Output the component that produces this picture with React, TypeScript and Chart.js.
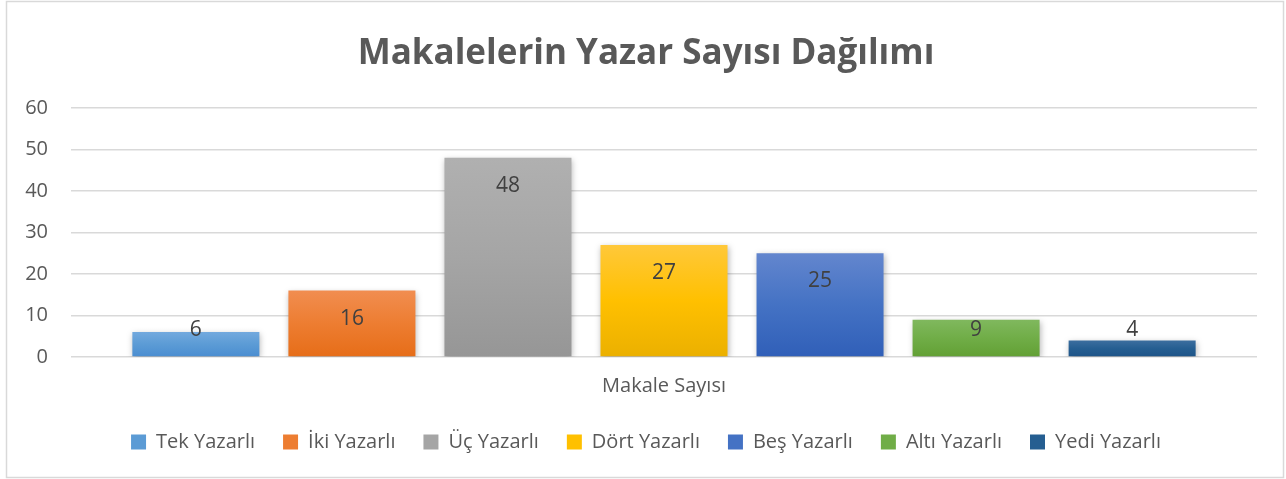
import React, { useEffect, useRef } from "react";
import { Chart, registerables } from "chart.js";

Chart.register(...registerables);

const titleText = "Makalelerin Yazar Sayısı Dağılımı";
const categories = ["Makale Sayısı"];
const seriesNames = [
  "Tek Yazarlı",
  "İki Yazarlı",
  "Üç Yazarlı",
  "Dört Yazarlı",
  "Beş Yazarlı",
  "Altı Yazarlı",
  "Yedi Yazarlı",
];
const seriesValues = [6, 16, 48, 27, 25, 9, 4];
const baseColors = ["#5B9BD5", "#ED7D31", "#A5A5A5", "#FFC000", "#4472C4", "#70AD47", "#255E91"];
const lightColors = ["#72A9DE", "#F18D50", "#B0B0B0", "#FFC83A", "#6386CE", "#80B85E", "#3C6E9F"];
const darkColors = ["#4A8DD1", "#E66D18", "#969696", "#EBB000", "#305FB8", "#62A034", "#1E5488"];
const yTicks = [0, 10, 20, 30, 40, 50, 60];

const FONT = "'Open Sans', 'Noto Sans', sans-serif";
const TEXT = "#595959";

const borderPlugin = {
  id: "outerBorder",
  beforeDraw(chart: any) {
    const { ctx, width, height } = chart;
    ctx.save();
    ctx.fillStyle = "#ffffff";
    ctx.fillRect(0, 0, width, height);
    ctx.strokeStyle = "#d9d9d9";
    ctx.lineWidth = 1.5;
    ctx.strokeRect(6.5, 1.5, width - 9, height - 3);
    ctx.restore();
  },
};

const shadowPlugin = {
  id: "barShadow",
  beforeDatasetDraw(chart: any) {
    const ctx = chart.ctx;
    ctx.save();
    ctx.shadowColor = "rgba(0,0,0,0.28)";
    ctx.shadowBlur = 6;
    ctx.shadowOffsetX = 1;
    ctx.shadowOffsetY = 2;
  },
  afterDatasetDraw(chart: any) {
    chart.ctx.restore();
  },
};

const labelPlugin = {
  id: "valueLabels",
  afterDatasetsDraw(chart: any) {
    const ctx = chart.ctx;
    ctx.save();
    ctx.font = `21px ${FONT}`;
    ctx.fillStyle = "#404040";
    ctx.textAlign = "center";
    ctx.textBaseline = "middle";
    chart.data.datasets.forEach((ds: any, i: number) => {
      const meta = chart.getDatasetMeta(i);
      meta.data.forEach((bar: any, j: number) => {
        const y = Math.min(bar.y + 28, bar.base - 26);
        ctx.fillText(String(ds.data[j]), bar.x, y);
      });
    });
    ctx.restore();
  },
};

export default function App() {
  const ref = useRef<HTMLCanvasElement | null>(null);

  useEffect(() => {
    document.body.style.margin = "0";
    const canvas = ref.current;
    if (!canvas) return;

    const chart = new Chart(canvas, {
      type: "bar",
      data: {
        labels: categories,
        datasets: seriesNames.map((name, i) => ({
          label: name,
          data: [seriesValues[i]],
          backgroundColor: (c: any) => {
            const ch = c.chart;
            const ys = ch.scales && ch.scales.y;
            if (!ch.chartArea || !ys || c.raw === undefined) return baseColors[i];
            const top = ys.getPixelForValue(c.raw);
            const base = ys.getPixelForValue(0);
            const g = ch.ctx.createLinearGradient(0, top, 0, base);
            g.addColorStop(0, lightColors[i]);
            g.addColorStop(0.5, baseColors[i]);
            g.addColorStop(1, darkColors[i]);
            return g;
          },
          borderWidth: 0,
          categoryPercentage: 0.921,
          barPercentage: 0.814,
        })),
      },
      options: {
        responsive: false,
        animation: false,
        maintainAspectRatio: false,
        layout: { padding: { left: 0, right: -6, top: 0, bottom: 17 } },
        plugins: {
          title: {
            display: true,
            text: titleText,
            color: TEXT,
            font: { family: FONT, size: 35, weight: "bold" },
            padding: { top: 33, bottom: 33 },
          },
          legend: {
            display: true,
            position: "bottom",
            labels: {
              color: TEXT,
              font: { family: FONT, size: 20 },
              boxWidth: 15,
              boxHeight: 15,
              padding: 28,
              generateLabels: () =>
                seriesNames.map((name, i) => ({
                  text: name,
                  fillStyle: baseColors[i],
                  strokeStyle: baseColors[i],
                  lineWidth: 0,
                  hidden: false,
                  datasetIndex: i,
                  fontColor: TEXT,
                })),
            },
          },
          tooltip: { enabled: false },
        },
        scales: {
          x: {
            grid: { display: false, drawTicks: false },
            border: { display: false },
            ticks: { color: TEXT, font: { family: FONT, size: 20 }, padding: 17 },
            afterFit: (s: any) => {
              s.height = 47;
            },
          },
          y: {
            min: 0,
            max: 60,
            afterBuildTicks: (s: any) => {
              s.ticks = yTicks.map((v) => ({ value: v }));
            },
            grid: { color: "#d9d9d9", lineWidth: 1.5, drawTicks: false },
            border: { display: false },
            ticks: { color: TEXT, font: { family: FONT, size: 20 }, padding: 23 },
            afterFit: (s: any) => {
              s.width = 71;
            },
          },
          yRight: {
            type: "linear",
            position: "right",
            min: 0,
            max: 60,
            grid: { display: false, drawTicks: false },
            border: { display: false },
            ticks: { display: false },
            afterFit: (s: any) => {
              s.width = 35;
            },
          },
        },
      },
      plugins: [borderPlugin, shadowPlugin, labelPlugin],
    });

    return () => chart.destroy();
  }, []);

  return (
    <div style={{ width: 1286, height: 479 }}>
      <canvas ref={ref} width={1286} height={479} style={{ display: "block" }} />
    </div>
  );
}
